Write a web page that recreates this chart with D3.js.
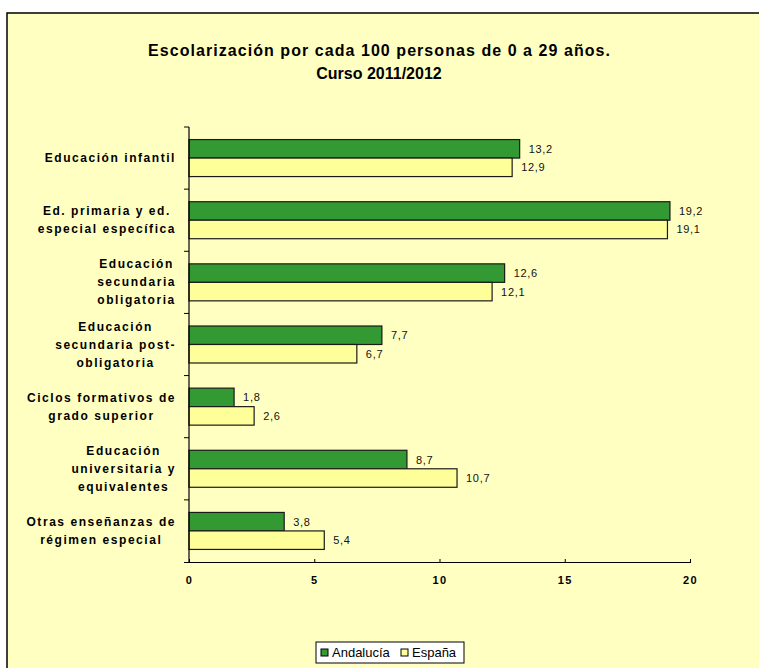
<!DOCTYPE html>
<html><head><meta charset="utf-8">
<script src="https://cdn.jsdelivr.net/npm/d3@7"></script>
<style>body{margin:0;background:#fff;} svg{display:block;font-family:"Liberation Sans",Arial,sans-serif;}</style>
</head><body><svg id="c" width="759" height="668"></svg>
<script>
const categories = [
  ["Educación infantil"],
  ["Ed. primaria y ed.", "especial específica"],
  ["Educación", "secundaria", "obligatoria"],
  ["Educación", "secundaria post-", "obligatoria"],
  ["Ciclos formativos de", "grado superior"],
  ["Educación", "universitaria y", "equivalentes"],
  ["Otras enseñanzas de", "régimen especial"]
];
const andalucia = [13.2, 19.2, 12.6, 7.7, 1.8, 8.7, 3.8];
const espana = [12.9, 19.1, 12.1, 6.7, 2.6, 10.7, 5.4];
const seriesNames = ["Andalucía", "España"];
const seriesColors = ["#339933", "#FFFF99"];
const xTicks = [0, 5, 10, 15, 20];
const titleLines = ["Escolarización por cada 100 personas de 0 a 29 años.", "Curso 2011/2012"];

const svg = d3.select("#c");
// chart area background
svg.append("rect").attr("x", 7).attr("y", 13).attr("width", 760).attr("height", 670)
  .attr("fill", "#FFFFC2").attr("stroke", "#000").attr("stroke-width", 1.5);

// title
svg.append("text").attr("x", 379).attr("y", 56).attr("text-anchor", "middle")
  .attr("font-weight", "bold").attr("font-size", 16)
  .attr("textLength", 462).attr("lengthAdjust", "spacing").text(titleLines[0]);
svg.append("text").attr("x", 379).attr("y", 79).attr("text-anchor", "middle")
  .attr("font-weight", "bold").attr("font-size", 16).text(titleLines[1]);

const x = d3.scaleLinear().domain([0, 20]).range([189, 690]);
const y = d3.scaleBand().domain(d3.range(categories.length)).range([127, 562]);
const inner = d3.scaleBand().domain([0, 1]).range([0, 37]);
const barOffset = (y.bandwidth() - 37) / 2;

const data = categories.map((c, i) => ({i, vals: [andalucia[i], espana[i]]}));

const g = svg.append("g");
data.forEach(d => {
  d.vals.forEach((v, s) => {
    const yy = y(d.i) + barOffset + inner(s);
    g.append("rect").attr("x", x(0)).attr("y", yy)
      .attr("width", x(v) - x(0)).attr("height", inner.bandwidth())
      .attr("fill", seriesColors[s]).attr("stroke", "#1a1a1a").attr("stroke-width", 1.2);
    g.append("text").attr("x", x(v) + 9).attr("y", yy + inner.bandwidth() / 2 + 4)
      .attr("font-size", 11).attr("letter-spacing", 0.7).attr("fill", "#111")
      .text(String(v.toFixed(1)).replace(".", ","));
  });
});

// y axis
svg.append("line").attr("x1", x(0)).attr("x2", x(0)).attr("y1", 127).attr("y2", 562)
  .attr("stroke", "#000").attr("stroke-width", 1.2);
y.domain().forEach(i => {
  svg.append("line").attr("x1", x(0) - 5).attr("x2", x(0)).attr("y1", y(i)).attr("y2", y(i))
    .attr("stroke", "#000");
});

// x axis
const xAxis = d3.axisBottom(x).tickValues(xTicks).tickSize(4).tickFormat(d3.format("d"));
const xg = svg.append("g").attr("transform", "translate(0,562)").call(xAxis);
xg.select(".domain").attr("d", `M${x(0) - 5},0.5H${x(20)}`).attr("stroke", "#000").attr("stroke-width", 1.2);
xg.selectAll(".tick line").attr("stroke", "#000").attr("y1", -3).attr("y2", 1);
xg.selectAll(".tick text").attr("font-size", 11).attr("font-weight", "bold")
  .attr("font-family", "Liberation Sans, Arial, sans-serif").attr("fill", "#000")
  .attr("letter-spacing", 1.5).attr("y", 14).attr("dy", "0.71em");

// category labels
categories.forEach((lines, i) => {
  const cy = y(i) + y.bandwidth() / 2;
  const lh = 18;
  const t = svg.append("text").attr("font-size", 12).attr("font-weight", "bold")
    .attr("letter-spacing", 1.55).attr("text-anchor", "middle").attr("fill", "#000");
  const spans = lines.map((l, k) => t.append("tspan").attr("y", cy - (lines.length - 1) * lh / 2 + k * lh + 4).text(l));
  let maxW = 0;
  spans.forEach(s => { maxW = Math.max(maxW, s.node().getComputedTextLength()); });
  spans.forEach(s => s.attr("x", 176 - maxW / 2));
});

// legend
const lg = svg.append("g");
lg.append("rect").attr("x", 316).attr("y", 642).attr("width", 148).attr("height", 21)
  .attr("fill", "#fff").attr("stroke", "#000").attr("stroke-width", 1);
const legX = [321, 401];
seriesNames.forEach((n, s) => {
  lg.append("rect").attr("x", legX[s]).attr("y", 649).attr("width", 7).attr("height", 7)
    .attr("fill", seriesColors[s]).attr("stroke", "#000");
  lg.append("text").attr("x", legX[s] + 11).attr("y", 657).attr("font-size", 13).text(n);
});
</script></body></html>
